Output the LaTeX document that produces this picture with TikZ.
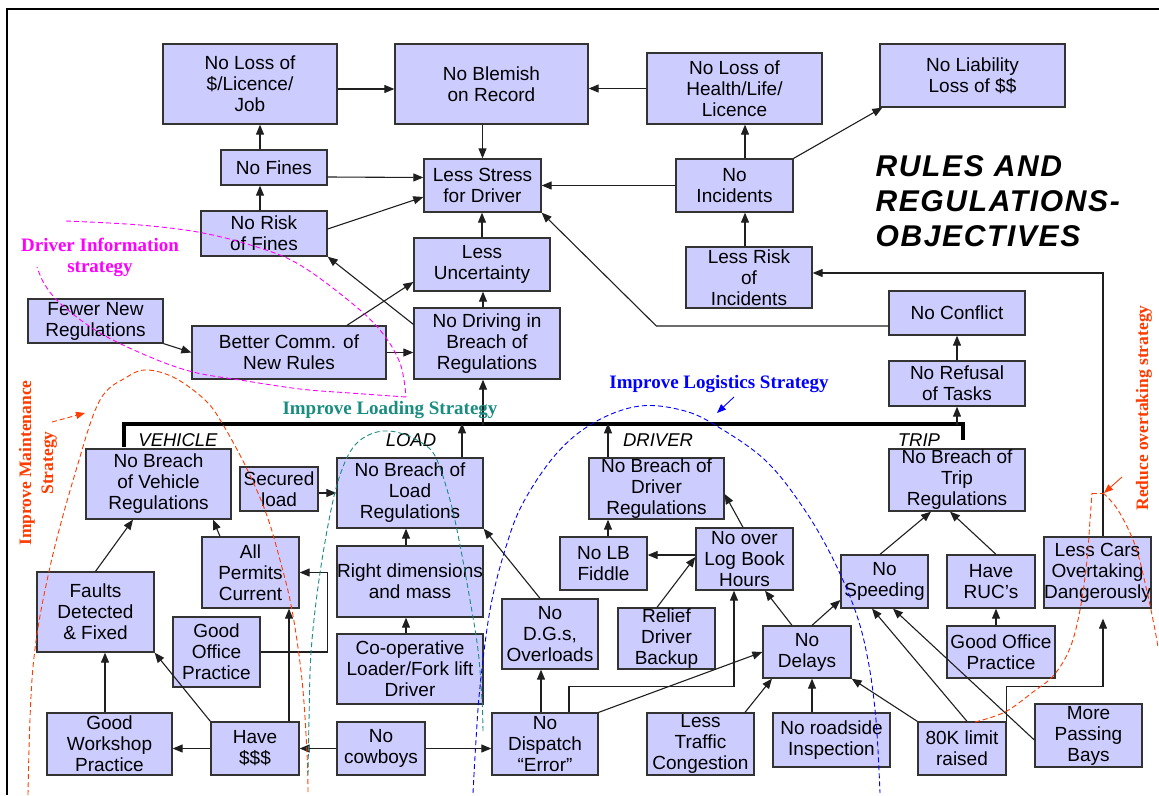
\documentclass[tikz,border=0pt]{standalone}
\usepackage{fontspec}
\setmainfont{Liberation Sans}
\newfontfamily\stratfont{Liberation Serif}
\newfontfamily\titlefont{Liberation Sans}[LetterSpace=5.5]
\usetikzlibrary{arrows.meta,calc}
\definecolor{boxfill}{HTML}{CCCCFF}
\definecolor{boxline}{HTML}{333333}
\definecolor{strmag}{HTML}{FF00FF}
\definecolor{strteal}{HTML}{1A8C80}
\definecolor{strblue}{HTML}{0000FF}
\definecolor{strred}{HTML}{FF3C00}
\begin{document}
\begin{tikzpicture}[x=1pt,y=-1pt,
  box/.style={draw=boxline, fill=boxfill, line width=1.3pt, inner sep=0pt,
    align=center, font=\fontsize{19}{21}\selectfont},
  sz/.style 2 args={minimum width=#1pt, minimum height=#2pt},
  arr/.style={-{Triangle[length=10pt,width=8pt]}, line width=1.1pt, draw=black!88},
  grp/.style={font=\fontsize{18.5}{21}\selectfont\itshape},
  strat/.style={font=\fontsize{19}{21}\selectfont\stratfont\bfseries, align=center},
  stratv/.style={font=\fontsize{17.5}{22}\selectfont\stratfont\bfseries, align=center, rotate=90},
  strline/.style={dash pattern=on 5pt off 3pt, line width=0.9pt},
  strarr/.style={-{Triangle[length=9pt,width=7pt]}, line width=0.9pt}
]
\fill[white] (0,0) rectangle (1159,795);
\useasboundingbox (0,0) rectangle (1159,795);

% outer frame
\draw[line width=2pt] (7,795) |- (1159,9);

% title
\node[anchor=west, align=left, font=\fontsize{30}{35}\selectfont\titlefont\bfseries\itshape]
  (title) at (872,201) {RULES AND\\REGULATIONS-\\OBJECTIVES};

% ---------- boxes ----------
\node[box, sz={174}{80}] (lossjob)   at (250,84)     {No Loss of\\\$/Licence/\\Job};
\node[box, sz={193}{80}] (blemish)   at (491.5,84)   {No Blemish\\on Record};
\node[box, sz={175}{71}] (health)    at (734.5,88.5) {No Loss of\\Health/Life/\\Licence};
\node[box, sz={185}{63}] (liability) at (972.5,75.5) {No Liability\\Loss of \$\$};
\node[box, sz={106}{35}] (fines)     at (274,167.5)  {No Fines};
\node[box, sz={117}{53}] (stress)    at (482.5,185.5){Less Stress\\for Driver};
\node[box, sz={117}{53}] (incidents) at (734.5,185.5){No\\Incidents};
\node[box, sz={126}{45}] (riskfines) at (264,233.5)  {No Risk\\of Fines};
\node[box, sz={136}{53}] (uncert)    at (482,264.5)  {Less\\Uncertainty};
\node[box, sz={126}{61}] (riskinc)   at (749,277.5)  {Less Risk\\of\\Incidents};
\node[box, sz={135}{44}] (fewer)     at (95.5,321)   {Fewer New\\Regulations};
\node[box, sz={194}{53}] (comm)      at (289,352.5)  {Better Comm. of\\New Rules};
\node[box, sz={146}{71}] (nodriving) at (487,343.5)  {No Driving in\\Breach of\\Regulations};
\node[box, sz={136}{44}] (conflict)  at (957,313)    {No Conflict};
\node[box, sz={136}{45}] (refusal)   at (957,383.5)  {No Refusal\\of Tasks};
\node[box, sz={145}{70}] (vehicle)   at (158.5,484)  {No Breach\\of Vehicle\\Regulations};
\node[box, sz={78}{44}]  (secured)   at (279,489)    {Secured\\load};
\node[box, sz={146}{70}] (loadreg)   at (410,493)    {No Breach of\\Load\\Regulations};
\node[box, sz={135}{61}] (driverreg) at (656.5,488.5){No Breach of\\Driver\\Regulations};
\node[box, sz={136}{62}] (tripreg)   at (957,480)    {No Breach of\\Trip\\Regulations};
\node[box, sz={97}{71}]  (permits)   at (250.5,572.5){All\\Permits\\Current};
\node[box, sz={146}{71}] (dims)      at (410,581.5)  {Right dimensions\\and mass};
\node[box, sz={87}{53}]  (lbfiddle)  at (603.5,563.5){No LB\\Fiddle};
\node[box, sz={97}{62}]  (nooverlog) at (744.5,559)  {No over\\Log Book\\Hours};
\node[box, sz={87}{53}]  (speeding)  at (884.5,581.5){No\\Speeding};
\node[box, sz={88}{53}]  (ruc)       at (991,581.5)  {Have\\RUC’s};
\node[box, sz={107}{71}] (lesscars)  at (1097.5,572.5){Less Cars\\Overtaking\\Dangerously};
\node[box, sz={117}{80}] (faults)    at (95.5,612)   {Faults\\Detected\\\& Fixed};
\node[box, sz={96}{70}]  (dgs)       at (550,634)    {No\\D.G.s,\\Overloads};
\node[box, sz={97}{61}]  (relief)    at (666.5,638.5){Relief\\Driver\\Backup};
\node[box, sz={87}{70}]  (office1)   at (216.5,652)  {Good\\Office\\Practice};
\node[box, sz={146}{70}] (coop)      at (410,669)    {Co-operative\\Loader/Fork lift\\Driver};
\node[box, sz={88}{52}]  (delays)    at (807,652)    {No\\Delays};
\node[box, sz={108}{52}] (office2)   at (1001,652)   {Good Office\\Practice};
\node[box, sz={125}{62}] (workshop)  at (109.5,744)  {Good\\Workshop\\Practice};
\node[box, sz={88}{53}]  (money)     at (255,748.5)  {Have\\\$\$\$};
\node[box, sz={88}{53}]  (cowboys)   at (381,748.5)  {No\\cowboys};
\node[box, sz={106}{62}] (dispatch)  at (545,744)    {No\\Dispatch\\“Error”};
\node[box, sz={107}{62}] (traffic)   at (700.5,744)  {Less\\Traffic\\Congestion};
\node[box, sz={117}{54}] (roadside)  at (831.5,740)  {No roadside\\Inspection};
\node[box, sz={88}{53}]  (k80)       at (962,748.5)  {80K limit\\raised};
\node[box, sz={107}{63}] (bays)      at (1088.5,735.5){More\\Passing\\Bays};

% ---------- group bar ----------
\coordinate (barL) at (124,447);
\coordinate (barR) at (963,424);
\draw[line width=3.2pt, line cap=butt] (barL) |- (barR) -- ++(0,16);
\node[grp] (lblveh)  at (178,440) {VEHICLE};
\node[grp] (lblload) at (411,440) {LOAD};
\node[grp] (lbldrv)  at (658,440) {DRIVER};
\node[grp] (lbltrip) at (919,440) {TRIP};

% ---------- connectors ----------
\draw[arr] ([yshift=-5pt]lossjob.east) -- ([yshift=-5pt]blemish.west);
\draw[arr] (health.west) -- (health.west -| blemish.east);
\draw[arr] (stress.north |- blemish.south) -- (stress.north);
\draw[arr] ([xshift=-14pt]fines.north) -- ([xshift=10pt]lossjob.south);
\draw[arr] ([yshift=-9.5pt]fines.east) -- ([yshift=8pt]stress.west);
\draw[arr] ([xshift=-4pt]riskfines.north) -- ([xshift=-14pt]fines.south);
\draw[arr] ([yshift=4.5pt]riskfines.east) -- ([yshift=-11.5pt]stress.west);
\draw[arr] (incidents.west) -- (stress.east);
\draw[arr] ([xshift=10.5pt]incidents.north) -- ([xshift=10.5pt]health.south);
\draw[arr] (incidents.north east) -- ([xshift=3pt]liability.south west);
\draw[arr] ([xshift=-4pt]riskinc.north) -- ([xshift=10.5pt]incidents.south);
\draw[arr] (uncert.north) -- (uncert.north |- stress.south);
\draw[arr] ([xshift=-4pt]nodriving.north) -- ([xshift=1pt]uncert.south);
\draw[arr] ([yshift=-17pt]nodriving.north west) -- (riskfines.south east);
\draw[arr] ([xshift=58pt]comm.north) -- ([yshift=-17.5pt]uncert.west);
\draw[arr] (comm.east) -- (comm.east -| nodriving.west);
\draw[arr] (fewer.south east) -- (comm.west);
\draw[arr] ([yshift=-13pt]conflict.west) -- ++(-232,0) -- (stress.south east);
\draw[arr] (refusal.north) -- (conflict.south);
\draw[arr] (refusal.south) ++(0,18) -- (refusal.south);
\draw[arr] ([xshift=-4pt]nodriving.south) ++(0,45) -- ++(0,-45);
\draw[arr] ([xshift=52pt]loadreg.north) -- ++(0,-34);
\draw[arr] ([xshift=-48.5pt]driverreg.north) -- ++(0,-34);
\draw[arr] ([xshift=5.5pt]lesscars.north) |- ([yshift=4.5pt]riskinc.east);
\draw[arr] (loadreg.west -| secured.east) -- (loadreg.west);
\draw[arr] ([xshift=-4pt]dims.north) -- ([xshift=-4pt]loadreg.south);
\draw[arr] ([xshift=-4pt]coop.north) -- ([xshift=-4pt]dims.south);
\draw[arr] ([xshift=-10pt]dgs.north) -- (loadreg.south east);
\draw[arr] (faults.north) -- ([xshift=-25.5pt]vehicle.south);
\draw[arr] ([xshift=-30.5pt]permits.north) -- ([xshift=54.5pt]vehicle.south);
\draw[arr] (office1.east) -- ++(67,0) |- (permits.east);
\draw[arr] ([xshift=-4.5pt]workshop.north) -- ([xshift=9.5pt]faults.south);
\draw[arr] (money.west) -- (money.west -| workshop.east);
\draw[arr] (money.north west) -- (faults.south east);
\draw[arr] ([xshift=34pt]money.north) -- ([xshift=38.5pt]permits.south);
\draw[arr] (cowboys.west) -- (money.east);
\draw[arr] (cowboys.east) -- (cowboys.east -| dispatch.west);
\draw[arr] ([xshift=-4pt]dispatch.north) -- ([xshift=-9pt]dgs.south);
\draw[arr] ([xshift=24pt]dispatch.north) -- ++(0,-26) -| ([xshift=-10.5pt]nooverlog.south);
\draw[arr] (dispatch.north east) -- (delays.west);
\draw[arr] ([xshift=4.5pt]lbfiddle.north) -- ([xshift=-48.5pt]driverreg.south);
\draw[arr] ([xshift=-1.5pt]nooverlog.north) -- ([yshift=-5.5pt]driverreg.east);
\draw[arr] ([yshift=4pt]nooverlog.west) -- ([yshift=8.5pt]lbfiddle.east);
\draw[arr] ([xshift=-9.5pt]relief.north) -- ([yshift=2pt]nooverlog.west);
\draw[arr] ([xshift=-15pt]delays.north) -- ([xshift=20.5pt]nooverlog.south);
\draw[arr] ([xshift=5pt]delays.north) -- ([yshift=-18.5pt]speeding.west);
\draw[arr] ([xshift=-4.5pt]speeding.north) -- ([xshift=-26pt]tripreg.south);
\draw[arr] ([xshift=5pt]ruc.north) -- ([xshift=-7pt]tripreg.south);
\draw[arr] ([xshift=-5pt]office2.north) -- ([xshift=5pt]ruc.south);
\draw[arr] ([xshift=44.5pt]traffic.north) -- ([xshift=-35pt]delays.south);
\draw[arr] ([xshift=-19.5pt]roadside.north) -- ([xshift=5pt]delays.south);
\draw[arr] (k80.north west) -- (delays.south east);
\draw[arr] ([xshift=5pt]k80.north) -- ([xshift=-12.5pt]speeding.south);
\draw[arr] ([yshift=-4.5pt]bays.west) -- ([xshift=8.5pt]speeding.south);
\draw[arr] (k80.north east) -- ++(0,-35) -| ([xshift=5.5pt,yshift=-10pt]lesscars.south);

% ---------- strategy outlines ----------
% driver information
\draw[strmag, strline] plot[smooth, tension=0.6] coordinates
  {(66,221) (140,225) (203,233) (260,248) (300,265) (348,300) (380,330) (400,363) (406,397)};
\draw[strmag, strline] plot[smooth, tension=0.6] coordinates
  {(406,397) (350,393) (300,389) (240,380) (193,372) (150,357) (100,333) (62,305) (45,285) (37,267)};
\node[strat, strmag] (infotext) at (100,257) {Driver Information\\strategy};

% maintenance
\draw[strred, strline] plot[smooth, tension=0.6] coordinates
  {(28,795) (33,667) (50,567) (77,467) (100,400) (127,377) (147,370) (175,378) (205,400) (222,423) (246,467) (266,513) (280,560) (292,610) (302,680) (307,753) (308,795)};
\node[stratv, strred] (mainttext) at (38,463) {Improve Maintenance\\Strategy};
\coordinate (maintA) at (52,422);
\coordinate (maintB) at (85,413);
\draw[strred, strline, strarr] (maintA) -- (maintB);

% loading
\draw[strteal, strline] plot[smooth, tension=0.6] coordinates
  {(308,775) (309,720) (311,653) (318,587) (329,520) (340,475) (355,445) (377,432) (400,433) (425,445) (437,460) (450,500) (459,540) (470,600) (478,650) (482,700) (483,732)};
\node[strat, strteal] (loadtext) at (390,410) {Improve Loading Strategy};

% logistics
\draw[strblue, strline] plot[smooth, tension=0.6] coordinates
  {(473,793) (476,740) (480,687) (490,610) (505,550) (523,503) (557,453) (595,422) (640,406) (685,411) (720,428) (765,460) (800,503) (830,553) (855,610) (868,660) (876,720) (880,793)};
\node[strat, strblue] (logtext) at (719,384) {Improve Logistics Strategy};
\coordinate (logA) at (734,397);
\coordinate (logB) at (717,413);
\draw[strblue, strarr] (logA) -- (logB);

% overtaking
\draw[strred, strline] plot[smooth, tension=0.6] coordinates
  {(975,722) (1005,712) (1033,692) (1054,675) (1070,648) (1080,610) (1087,560) (1090,520) (1092,493)};
\draw[strred, strline] (1092,493) -- (1103,493);
\draw[strred, strline] plot[smooth, tension=0.6] coordinates
  {(1103,493) (1118,510) (1135,545) (1146,587) (1155,630) (1158,648)};
\node[stratv, strred] (overtext) at (1144,408) {Reduce overtaking strategy};
\coordinate (overA) at (1122,477);
\coordinate (overB) at (1104,493);
\draw[strred, strarr] (overA) -- (overB);
\end{tikzpicture}
\end{document}
